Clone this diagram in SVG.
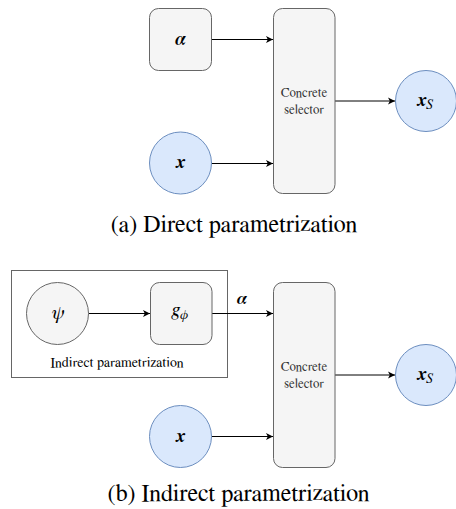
<svg xmlns="http://www.w3.org/2000/svg" width="456" height="509" viewBox="0 0 456 509">
<style>
.gbox{fill:#f5f5f5;stroke:#666666;stroke-width:1}
.blue{fill:#dae8fc;stroke:#6c8ebf;stroke-width:1}
.frame{fill:#ffffff;stroke:#666666;stroke-width:1}
.edge{stroke:#000000;stroke-width:1;fill:none;marker-end:url(#arr)}
.math{font-family:'FreeSerif','Noto Serif','Liberation Serif',serif;font-style:italic;font-weight:bold;fill:#000;text-anchor:middle}
.lbl{font-family:'FreeSerif','Noto Serif','Liberation Serif',serif;font-size:13px;fill:#333333;text-anchor:middle}
.cap{font-family:'FreeSerif','Noto Serif','Liberation Serif',serif;font-size:24px;fill:#000;text-anchor:middle}
</style>
<defs>
<marker id="arr" markerWidth="8" markerHeight="8" refX="7" refY="4" orient="auto" markerUnits="userSpaceOnUse">
<path d="M0,0.5 L7,4 L0,7.5 L1.8,4 Z" fill="#000"/>
</marker>
</defs>
<g id="indirect-frame">
<rect class="frame" x="11.5" y="270.5" width="216" height="107"/>
<text class="lbl" x="117" y="367" style="font-size:14px;fill:#000">Indirect parametrization</text>
</g>
<g id="connectors">
<line class="edge" x1="211.5" y1="39.5" x2="273" y2="39.5"/>
<line class="edge" x1="211.5" y1="163.5" x2="273" y2="163.5"/>
<line class="edge" x1="335" y1="101" x2="395" y2="101"/>
<line class="edge" x1="88.5" y1="313.5" x2="150" y2="313.5"/>
<line class="edge" x1="212" y1="313.5" x2="273" y2="313.5"/>
<line class="edge" x1="211.5" y1="436.5" x2="273" y2="436.5"/>
<line class="edge" x1="335" y1="375" x2="395" y2="375"/>
</g>
<g id="alpha-a">
<rect class="gbox" x="149.5" y="8.5" width="62" height="62" rx="9"/>
<text class="math" x="180.5" y="45" font-size="19">α</text>
</g>
<g id="selector-a">
<rect class="gbox" x="273.5" y="8.5" width="61.5" height="185" rx="9"/>
<text class="lbl" x="304" y="97">Concrete</text>
<text class="lbl" x="304" y="114">selector</text>
</g>
<g id="x-a">
<circle class="blue" cx="180.5" cy="163" r="31"/>
<text class="math" x="180.5" y="168" font-size="19">x</text>
</g>
<g id="xs-a">
<circle class="blue" cx="426" cy="101" r="30.5"/>
<text class="math" x="425" y="106" font-size="19">x<tspan font-size="14" font-weight="normal" dy="3">S</tspan></text>
</g>
<text class="cap" x="234" y="232">(a) Direct parametrization</text>
<g id="psi">
<circle class="gbox" cx="57.5" cy="313.5" r="31"/>
<text class="math" x="57.5" y="319" font-size="19" style="font-weight:normal">ψ</text>
</g>
<g id="g-phi">
<rect class="gbox" x="150.5" y="282.5" width="61.5" height="62" rx="9"/>
<text class="math" x="180" y="316" font-size="19" style="font-weight:normal">g<tspan font-size="13" dy="3">ϕ</tspan></text>
</g>
<text class="math" x="242" y="304" font-size="18">α</text>
<g id="selector-b">
<rect class="gbox" x="273.5" y="282.5" width="61.5" height="185" rx="9"/>
<text class="lbl" x="304" y="371">Concrete</text>
<text class="lbl" x="304" y="388">selector</text>
</g>
<g id="x-b">
<circle class="blue" cx="180.5" cy="436.5" r="31"/>
<text class="math" x="180.5" y="442" font-size="19">x</text>
</g>
<g id="xs-b">
<circle class="blue" cx="426" cy="375" r="30.5"/>
<text class="math" x="425" y="380" font-size="19">x<tspan font-size="14" font-weight="normal" dy="3">S</tspan></text>
</g>
<text class="cap" x="238.5" y="501">(b) Indirect parametrization</text>
</svg>
